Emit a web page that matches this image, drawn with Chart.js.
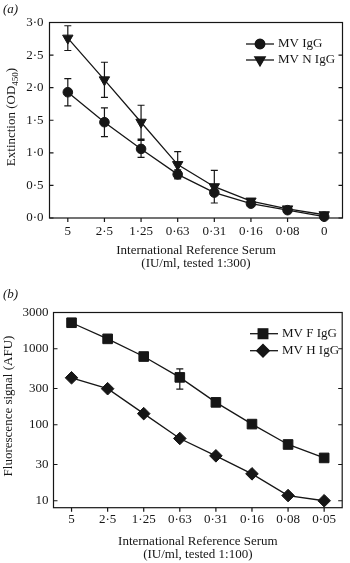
<!DOCTYPE html>
<html>
<head>
<meta charset="utf-8">
<script src="https://cdn.jsdelivr.net/npm/chart.js@4.4.1/dist/chart.umd.min.js"></script>
<style>
    body { margin: 0; background: #fff; width: 350px; height: 563px; overflow: hidden; }
    canvas { display: block; }
</style>
</head>
<body>
<canvas id="chartA" width="350" height="280"></canvas>
<canvas id="chartB" width="350" height="283"></canvas>
<script>
// panel (a) - ELISA extinction
var doseA       = [ '5', '2·5', '1·25', '0·63', '0·31', '0·16', '0·08', '0' ];
var mvIgG       = [ 1.93, 1.47, 1.06, 0.67, 0.39, 0.22, 0.12, 0.02 ];
var mvIgGErr    = [ 0.21, 0.22, 0.13, 0.07, 0.04, 0.02, 0.02, 0.01 ];
var mvNIgG      = [ 2.76, 2.12, 1.47, 0.82, 0.48, 0.26, 0.14, 0.05 ];
var mvNIgGErr   = [ 0.19, 0.27, 0.26, 0.20, 0.25, 0.03, 0.03, 0.01 ];
var ticksA      = [ 0, 0.5, 1, 1.5, 2, 2.5, 3 ];

// panel (b) - fluorescence signal, log scale
var doseB       = [ '5', '2·5', '1·25', '0·63', '0·31', '0·16', '0·08', '0·05' ];
var mvFIgG      = [ 2200, 1350, 790, 420, 197, 102, 55, 36.6 ];
var mvFIgGErr   = [ 0, 0, 0, 125, 0, 10, 0, 0 ];
var mvHIgG      = [ 415, 298, 140, 66, 39, 22.6, 11.7, 10 ];
var mvHIgGErr   = [ 0, 0, 0, 0, 0, 0, 0, 0 ];
var ticksB      = [ 10, 30, 100, 300, 1000, 3000 ];

var INK   = '#161616';
var SERIF = '"Liberation Serif", "DejaVu Serif", serif';

function dot( v ) {
    return String( v ).replace( '.', '·' );
}

function series( label, data, err, style, radius, rotation ) {
    return {
        label               : label,
        data                : data,
        err                 : err,
        borderColor         : INK,
        backgroundColor     : INK,
        borderWidth         : 1.3,
        pointStyle          : style,
        pointRadius         : radius,
        pointHoverRadius    : radius,
        pointRotation       : rotation || 0,
        pointBorderWidth    : 1,
        pointBackgroundColor: INK,
        pointBorderColor    : INK,
        tension             : 0,
        clip                : false
    };
}

/** draws frame, inner ticks, error bars, legend and axis titles */
function decor( cfg ) {
    return {
        id: 'decor',
        beforeDatasetsDraw: function( chart ) {
            var ctx = chart.ctx, a = chart.chartArea;
            var xs = chart.scales.x, ys = chart.scales.y;
            ctx.save();
            ctx.strokeStyle = INK;
            ctx.lineWidth = 1.2;
            ctx.strokeRect( a.left, a.top, a.right - a.left, a.bottom - a.top );
            ctx.beginPath();
            cfg.yTicks.forEach( function( v ) {
                var y = ys.getPixelForValue( v );
                ctx.moveTo( a.left, y );
                ctx.lineTo( a.left + 4, y );
                ctx.moveTo( a.right, y );
                ctx.lineTo( a.right - 4, y );
            });
            chart.data.labels.forEach( function( l, i ) {
                var x = xs.getPixelForValue( i );
                ctx.moveTo( x, a.bottom );
                ctx.lineTo( x, a.bottom + 4 );
            });
            ctx.stroke();

            // error bars
            ctx.lineWidth = 1.2;
            ctx.beginPath();
            chart.data.datasets.forEach( function( ds ) {
                ds.data.forEach( function( v, i ) {
                    var e = ds.err[ i ];
                    if ( !e ) {
                        return;
                    }
                    var x = xs.getPixelForValue( i );
                    var y1 = ys.getPixelForValue( v + e );
                    var y2 = ys.getPixelForValue( v - e );
                    ctx.moveTo( x, y1 );
                    ctx.lineTo( x, y2 );
                    ctx.moveTo( x - 3.5, y1 );
                    ctx.lineTo( x + 3.5, y1 );
                    ctx.moveTo( x - 3.5, y2 );
                    ctx.lineTo( x + 3.5, y2 );
                });
            });
            ctx.stroke();
            ctx.restore();
        },
        afterDraw: function( chart ) {
            var ctx = chart.ctx, a = chart.chartArea;
            var cx = ( a.left + a.right ) / 2;
            ctx.save();
            ctx.fillStyle = INK;
            ctx.strokeStyle = INK;

            // legend
            ctx.font = '13px ' + SERIF;
            ctx.textBaseline = 'middle';
            ctx.textAlign = 'left';
            chart.data.datasets.forEach( function( ds, i ) {
                var y = cfg.legend.y + i * cfg.legend.gap;
                ctx.lineWidth = 1.3;
                ctx.beginPath();
                ctx.moveTo( cfg.legend.x0, y );
                ctx.lineTo( cfg.legend.x1, y );
                ctx.stroke();
                Chart.helpers.drawPoint( ctx, {
                    pointStyle : ds.pointStyle,
                    radius     : ds.pointRadius,
                    rotation   : ds.pointRotation,
                    borderWidth: 1
                }, cfg.legend.xm, y );
                ctx.fill();
                ctx.fillText( ds.label, cfg.legend.xt, y );
            });

            // x title, two lines
            ctx.textAlign = 'center';
            ctx.fillText( cfg.xTitle[ 0 ], cx, cfg.xTitleY[ 0 ] );
            ctx.fillText( cfg.xTitle[ 1 ], cx, cfg.xTitleY[ 1 ] );

            // y title, rotated, with optional subscript
            ctx.save();
            ctx.translate( cfg.yTitleX, cfg.yTitleY );
            ctx.rotate( -Math.PI / 2 );
            var total = 0;
            cfg.yTitle.forEach( function( p ) {
                ctx.font = ( p.sub ? '9px ' : '13px ' ) + SERIF;
                total += ctx.measureText( p.t ).width;
            });
            var x = -total / 2;
            ctx.textAlign = 'left';
            cfg.yTitle.forEach( function( p ) {
                ctx.font = ( p.sub ? '9px ' : '13px ' ) + SERIF;
                ctx.fillText( p.t, x, p.sub ? 4 : 0 );
                x += ctx.measureText( p.t ).width;
            });
            ctx.restore();

            // panel label
            ctx.font = 'italic 13px ' + SERIF;
            ctx.textAlign = 'left';
            ctx.fillText( cfg.panel, 3, cfg.panelY );
            ctx.restore();
        }
    };
}

function axisFont() {
    return { family: SERIF, size: 13 };
}

new Chart( document.getElementById( 'chartA' ), {
    type: 'line',
    data: {
        labels  : doseA,
        datasets: [
            series( 'MV IgG', mvIgG, mvIgGErr, 'circle', 4.8 ),
            series( 'MV N IgG', mvNIgG, mvNIgGErr, 'triangle', 6, 180 )
        ]
    },
    options: {
        responsive : false,
        animation  : false,
        events     : [],
        layout     : { padding: { top: 22.5, right: 7.5, left: 0, bottom: 0 } },
        plugins    : { legend: { display: false }, tooltip: { enabled: false } },
        scales: {
            x: {
                type    : 'category',
                offset  : true,
                grid    : { display: false, drawTicks: false },
                border  : { display: false },
                ticks   : { color: INK, font: axisFont(), padding: 6, maxRotation: 0, autoSkip: false },
                afterFit: function( s ) { s.height = 62; }
            },
            y: {
                min     : 0,
                max     : 3,
                grid    : { display: false, drawTicks: false },
                border  : { display: false },
                ticks   : { color: INK, font: axisFont(), padding: 6, stepSize: 0.5,
                            callback: function( v ) { return dot( v.toFixed( 1 ) ); } },
                afterFit: function( s ) { s.width = 49.5; }
            }
        }
    },
    plugins: [ decor({
        yTicks  : ticksA,
        legend  : { x0: 246, x1: 274, xm: 260, xt: 278, y: 44, gap: 16 },
        xTitle  : [ 'International Reference Serum', '(IU/ml, tested 1:300)' ],
        xTitleY : [ 251, 264 ],
        yTitle  : [ { t: 'Extinction (OD' }, { t: '450', sub: true }, { t: ')' } ],
        yTitleX : 12,
        yTitleY : 117,
        panel   : '(a)',
        panelY  : 10
    }) ]
});

new Chart( document.getElementById( 'chartB' ), {
    type: 'line',
    data: {
        labels  : doseB,
        datasets: [
            series( 'MV F IgG', mvFIgG, mvFIgGErr, 'rect', 6.8 ),
            series( 'MV H IgG', mvHIgG, mvHIgGErr, 'rectRot', 6.3 )
        ]
    },
    options: {
        responsive : false,
        animation  : false,
        events     : [],
        layout     : { padding: { top: 32.5, right: 2.5, left: 0, bottom: 0 } },
        plugins    : { legend: { display: false }, tooltip: { enabled: false } },
        scales: {
            x: {
                type    : 'category',
                offset  : true,
                grid    : { display: false, drawTicks: false },
                border  : { display: false },
                ticks   : { color: INK, font: axisFont(), padding: 4.5, maxRotation: 0, autoSkip: false },
                afterFit: function( s ) { s.height = 55.3; }
            },
            y: {
                type    : 'logarithmic',
                min     : 8.1,
                max     : 3000,
                grid    : { display: false, drawTicks: false },
                border  : { display: false },
                ticks   : { color: INK, font: axisFont(), padding: 5,
                            callback: function( v ) { return String( v ); } },
                afterBuildTicks: function( s ) {
                    s.ticks = ticksB.map( function( v ) { return { value: v }; } );
                },
                afterFit: function( s ) { s.width = 53.5; }
            }
        }
    },
    plugins: [ decor({
        yTicks  : ticksB,
        legend  : { x0: 250, x1: 278, xm: 263, xt: 282, y: 53.7, gap: 17 },
        xTitle  : [ 'International Reference Serum', '(IU/ml, tested 1:100)' ],
        xTitleY : [ 262, 275 ],
        yTitle  : [ { t: 'Fluorescence signal (AFU)' } ],
        yTitleX : 9,
        yTitleY : 126,
        panel   : '(b)',
        panelY  : 15
    }) ]
});
</script>
</body>
</html>
